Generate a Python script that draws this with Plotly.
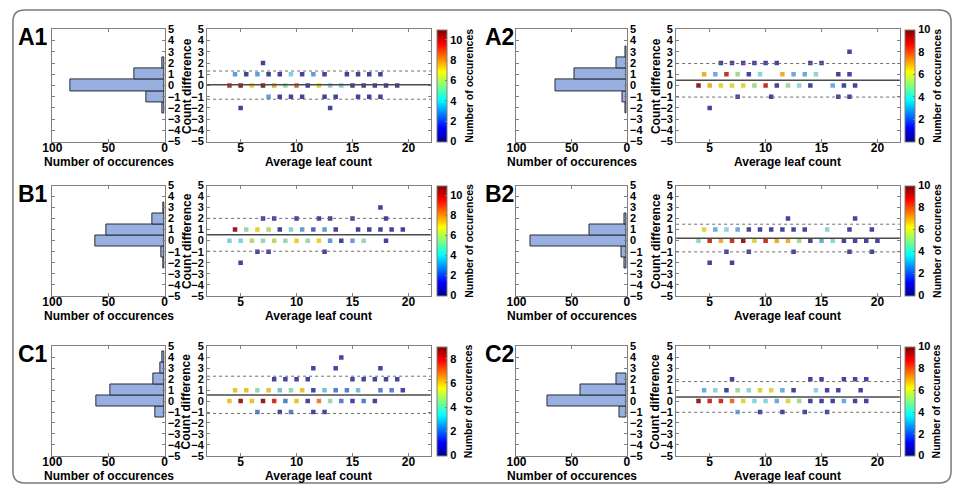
import plotly.graph_objects as go

# ---------------- data ----------------
panel_names = ["A1", "A2", "B1", "B2", "C1", "C2"]
cmax_values = [11, 10, 11, 10, 9, 10]

# scatter: average leaf count, count difference, number of occurrences
a1_avg = [4, 5, 6, 7, 8, 9, 10, 11, 12, 13, 14, 15, 16, 17, 18, 19,
          4.5, 5.5, 6.5, 7.5, 8.5, 9.5, 10.5, 11.5, 12.5, 14.5, 15.5, 16.5, 17.5,
          7.5, 8.5, 9.5, 10.5, 12.5, 13.5, 15.5, 16.5, 17.5,
          7, 5, 13]
a1_diff = [0] * 16 + [1] * 13 + [-1] * 9 + [2] + [-2, -2]
a1_occ = [10, 11, 7, 11, 8, 5, 9, 1, 7, 4, 4, 1, 1, 1, 1, 1,
          3, 1, 3, 1, 1, 4, 1, 3, 1, 1, 1, 1, 1,
          3, 1, 1, 1, 1, 1, 1, 1, 1,
          1, 1, 1]

a2_avg = [4, 5, 6, 7, 8, 9, 10, 11, 12, 13, 14, 16, 17, 18,
          4.5, 5.5, 6.5, 7.5, 8.5, 9.5, 11.5, 12.5, 13.5, 14.5, 16.5, 17.5,
          6, 7, 8, 9, 10, 11, 14, 15,
          17.5,
          7.5, 10.5, 16.5, 17.5,
          5]
a2_diff = [0] * 14 + [1] * 12 + [2] * 8 + [3] + [-1] * 4 + [-2]
a2_occ = [10, 7, 6, 6, 6, 5, 9, 1, 5, 4, 1, 3, 1, 1,
          7, 3, 9, 5, 1, 4, 7, 3, 3, 4, 1, 1,
          1, 1, 1, 1, 1, 1, 1, 1,
          1,
          1, 1, 1, 1,
          1]

b1_avg = [4, 5, 6, 7, 8, 9, 10, 11, 12, 13, 14, 15, 16, 18,
          4.5, 5.5, 6.5, 7.5, 8.5, 9.5, 10.5, 11.5, 12.5, 13.5, 15.5, 16.5, 17.5, 18.5, 19.5,
          7, 8, 10, 12, 13, 15, 18,
          17.5,
          6.5, 7.5, 12.5,
          5]
b1_diff = [0] * 14 + [1] * 15 + [2] * 7 + [3] + [-1] * 3 + [-2]
b1_occ = [4, 4, 6, 5, 6, 5, 7, 5, 7, 3, 1, 3, 5, 1,
          11, 5, 7, 6, 1, 4, 3, 2, 3, 1, 1, 1, 1, 1, 1,
          1, 1, 1, 1, 1, 1, 1,
          1,
          1, 1, 1,
          1]

b2_avg = [4, 5, 6, 7, 8, 9, 10, 11, 12, 13, 14, 15, 16, 17, 18, 19, 20,
          4.5, 5.5, 6.5, 7.5, 8.5, 9.5, 10.5, 11.5, 12.5, 13.5, 15.5, 17.5, 19.5,
          12, 18,
          6.5, 8.5, 12.5, 17.5, 19.5,
          5, 7]
b2_diff = [0] * 17 + [1] * 13 + [2] * 2 + [-1] * 5 + [-2] * 2
b2_occ = [4, 9, 7, 9, 10, 6, 9, 7, 7, 5, 1, 3, 4, 1, 1, 1, 1,
          6, 3, 4, 3, 1, 1, 1, 1, 1, 1, 4, 1, 1,
          1, 1,
          1, 1, 1, 1, 1,
          1, 1]

c1_avg = [4, 5, 6, 7, 8, 9, 10, 11, 12, 13, 14, 15, 16, 17,
          4.5, 5.5, 6.5, 7.5, 8.5, 9.5, 10.5, 11.5, 12.5, 13.5, 14.5, 15.5, 17.5, 18.5, 19.5,
          8, 9, 10, 11, 15, 16, 17, 18, 19,
          11.5, 13.5, 17.5,
          14,
          6.5, 8.5, 9.5, 11.5, 12.5]
c1_diff = [0] * 14 + [1] * 15 + [2] * 9 + [3] * 3 + [4] + [-1] * 5
c1_occ = [6, 9, 6, 9, 8, 2, 6, 1, 7, 4, 2, 1, 2, 1,
          6, 6, 4, 6, 3, 4, 6, 1, 3, 2, 2, 3, 2, 2, 1,
          1, 1, 1, 1, 1, 1, 1, 1, 1,
          1, 1, 1,
          1,
          2, 1, 2, 1, 1]

c2_avg = [4, 5, 6, 7, 8, 9, 10, 11, 12, 13, 14, 15, 16, 17, 18, 19,
          4.5, 5.5, 6.5, 7.5, 8.5, 9.5, 10.5, 11.5, 12.5, 14.5, 15.5, 16.5, 18.5,
          7, 14, 15, 17, 18, 19,
          7.5, 9.5, 11.5, 13.5, 15.5]
c2_diff = [0] * 16 + [1] * 13 + [2] * 6 + [-1] * 5
c2_occ = [10, 9, 9, 8, 6, 4, 4, 3, 6, 5, 1, 1, 1, 3, 1, 1,
          3, 4, 1, 5, 4, 6, 6, 3, 1, 4, 1, 1, 1,
          1, 1, 1, 1, 1, 1,
          3, 1, 1, 1, 1]

# histograms of count difference
a1_bins = [-2, -1, 0, 1, 2]
a1_hist = [2, 16, 84, 27, 2]
a2_bins = [-2, -1, 0, 1, 2, 3]
a2_hist = [1, 4, 65, 47, 9, 1]
b1_bins = [-2, -1, 0, 1, 2, 3]
b1_hist = [1, 3, 62, 52, 11, 1]
b2_bins = [-2, -1, 0, 1, 2]
b2_hist = [2, 5, 87, 34, 2]
c1_bins = [-1, 0, 1, 2, 3, 4]
c1_hist = [8, 61, 48, 10, 4, 2]
c2_bins = [-1, 0, 1, 2]
c2_hist = [7, 72, 42, 9]

# mean difference and limits of agreement
mean_lines = [0.06, 0.46, 0.53, 0.22, 0.57, 0.37]
upper_lines = [1.29, 1.96, 2.02, 1.49, 2.28, 1.79]
lower_lines = [-1.22, -1.03, -0.96, -1.02, -1.13, -1.02]

hist_ticks = [0, 50, 100]
avg_ticks = [5, 10, 15, 20]
diff_ticks = list(range(-5, 6))

# ---------------- figure ----------------
W, H = 959, 492
FONT = "Liberation Sans, Arial, sans-serif"


def fx(p):
    return p / W


def fy(p):
    return 1 - p / H


jet = [[0, "rgb(0,0,143)"], [0.125, "rgb(0,0,255)"], [0.375, "rgb(0,255,255)"],
       [0.625, "rgb(255,255,0)"], [0.875, "rgb(255,0,0)"], [1, "rgb(128,0,0)"]]
# same hues as jet, but softened the way the printed markers appear
jet_soft = [[0, "rgb(55,55,130)"], [0.125, "rgb(72,72,165)"], [0.25, "rgb(90,145,215)"],
            [0.375, "rgb(135,212,230)"], [0.5, "rgb(165,215,150)"], [0.625, "rgb(232,214,45)"],
            [0.75, "rgb(238,150,50)"], [0.875, "rgb(215,55,40)"], [1, "rgb(150,30,30)"]]

scatter_data = [(a1_avg, a1_diff, a1_occ), (a2_avg, a2_diff, a2_occ),
                (b1_avg, b1_diff, b1_occ), (b2_avg, b2_diff, b2_occ),
                (c1_avg, c1_diff, c1_occ), (c2_avg, c2_diff, c2_occ)]
hist_data = [(a1_bins, a1_hist), (a2_bins, a2_hist), (b1_bins, b1_hist),
             (b2_bins, b2_hist), (c1_bins, c1_hist), (c2_bins, c2_hist)]

cols = [dict(hist=(43, 157), scat=(200, 427), cb=433, cbt=465, lab=23),
        dict(hist=(514, 626), scat=(676, 903), cb=908, cbt=940, lab=497)]
rows = [(24, 139, 32), (184, 297, 193), (349, 461, 357)]

fig = go.Figure()
layout = {}
annotations = []
shapes = []
xtickfont = dict(family=FONT, size=12, color="black", weight="bold")
ytickfont = dict(family=FONT, size=11, color="black", weight="bold")
cbfont = dict(family=FONT, size=11, color="black", weight="bold")
axcommon = dict(showline=True, linecolor="#808080", linewidth=1, mirror="ticks",
                ticks="inside", ticklen=3, tickcolor="#808080", showgrid=False,
                zeroline=False, fixedrange=True)

for i, name in enumerate(panel_names):
    c = cols[i % 2]
    top, bot, laby = rows[i // 2]
    h = 2 * i + 1
    s = 2 * i + 2
    ydom = [fy(bot), fy(top)]
    bins, counts = hist_data[i]
    fig.add_trace(go.Bar(x=counts, y=bins, orientation="h", width=1,
                         marker=dict(color="rgb(152,176,224)",
                                     line=dict(color="#2a2a35", width=1)),
                         xaxis=f"x{h}", yaxis=f"y{h}", showlegend=False))
    avg, diff, occ = scatter_data[i]
    cm = cmax_values[i]
    fig.add_trace(go.Scatter(
        x=avg, y=diff, mode="markers", xaxis=f"x{s}", yaxis=f"y{s}", showlegend=False,
        marker=dict(symbol="square", size=4.5, color=occ, colorscale=jet_soft, cmin=0,
                    cmax=cm, line=dict(width=0), showscale=False)))
    # colour bar (jet scale, 0..cmax)
    fig.add_trace(go.Scatter(
        x=[None], y=[None], mode="markers", xaxis=f"x{s}", yaxis=f"y{s}", showlegend=False,
        hoverinfo="skip",
        marker=dict(color=[0, cm], colorscale=jet, cmin=0, cmax=cm, showscale=True,
                    colorbar=dict(x=fx(c["cb"]), xanchor="left", xpad=0, ypad=0,
                                  y=(ydom[0] + ydom[1]) / 2, yanchor="middle",
                                  len=ydom[1] - ydom[0], lenmode="fraction",
                                  thickness=10, thicknessmode="pixels",
                                  outlinewidth=1, outlinecolor="#808080",
                                  tickvals=list(range(0, cm + 1, 2)),
                                  ticks="inside", ticklen=2, tickcolor="#808080",
                                  tickfont=cbfont))))
    hk = "" if h == 1 else str(h)
    layout[f"xaxis{hk}"] = dict(domain=[fx(c["hist"][0]), fx(c["hist"][1])], anchor=f"y{h}",
                                range=[100, 0], tickvals=hist_ticks, ticklabelstandoff=-5,
                                tickfont=xtickfont, **axcommon)
    layout[f"yaxis{hk}"] = dict(domain=ydom, anchor=f"x{h}", range=[-5, 5],
                                tickvals=diff_ticks, side="right", tickfont=ytickfont,
                                **axcommon)
    layout[f"xaxis{s}"] = dict(domain=[fx(c["scat"][0]), fx(c["scat"][1])], anchor=f"y{s}",
                               range=[2, 22], tickvals=avg_ticks, ticklabelstandoff=-5,
                               tickfont=xtickfont, **axcommon)
    layout[f"yaxis{s}"] = dict(domain=ydom, anchor=f"x{s}", range=[-5, 5],
                               tickvals=diff_ticks, tickfont=ytickfont, **axcommon)

    # mean and limits
    shapes.append(dict(type="line", xref=f"x{s} domain", yref=f"y{s}", x0=0, x1=1,
                       y0=mean_lines[i], y1=mean_lines[i],
                       line=dict(color="#4a4a4a", width=1.5)))
    for v in (upper_lines[i], lower_lines[i]):
        shapes.append(dict(type="line", xref=f"x{s} domain", yref=f"y{s}", x0=0, x1=1,
                           y0=v, y1=v, line=dict(color="#707070", width=1, dash="dot")))

    # texts
    annotations.append(dict(text=name, x=fx(c["lab"]), y=fy(laby), xref="paper", yref="paper",
                            showarrow=False, xanchor="center", yanchor="middle",
                            font=dict(family=FONT, size=23, color="black", weight="bold")))
    tfont = dict(family=FONT, size=12, color="black", weight="bold")
    annotations.append(dict(text="Number of occurences", x=fx(sum(c["hist"]) / 2),
                            y=fy(bot + 21), xref="paper", yref="paper", showarrow=False,
                            xanchor="center", yanchor="middle", font=tfont))
    annotations.append(dict(text="Average leaf count", x=fx(sum(c["scat"]) / 2),
                            y=fy(bot + 21), xref="paper", yref="paper", showarrow=False,
                            xanchor="center", yanchor="middle", font=tfont))
    annotations.append(dict(text="Count difference", x=fx(c["scat"][0] - 21),
                            y=fy((top + bot) / 2), xref="paper", yref="paper",
                            showarrow=False, textangle=-90, xanchor="center",
                            yanchor="middle", font=tfont))
    annotations.append(dict(text="Number of occurences", x=fx(c["cbt"]),
                            y=fy((top + bot) / 2), xref="paper", yref="paper",
                            showarrow=False, textangle=-90, xanchor="center",
                            yanchor="middle",
                            font=dict(family=FONT, size=10.5, color="black", weight="bold")))

# rounded outer frame
x0, y0, x1, y1 = fx(3), fy(4), fx(955), fy(489)
rx, ry = 12 / W, 12 / H
path = (f"M {x0 + rx},{y0} L {x1 - rx},{y0} Q {x1},{y0} {x1},{y0 - ry} "
        f"L {x1},{y1 + ry} Q {x1},{y1} {x1 - rx},{y1} L {x0 + rx},{y1} "
        f"Q {x0},{y1} {x0},{y1 + ry} L {x0},{y0 - ry} Q {x0},{y0} {x0 + rx},{y0} Z")
shapes.append(dict(type="path", xref="paper", yref="paper", path=path,
                   line=dict(color="#7a7a7a", width=1.5), layer="below"))

fig.update_layout(width=W, height=H, margin=dict(l=0, r=0, t=0, b=0),
                  paper_bgcolor="white", plot_bgcolor="white", bargap=0,
                  annotations=annotations, shapes=shapes, **layout)

fig.write_html("out.html", config={"displayModeBar": False})
